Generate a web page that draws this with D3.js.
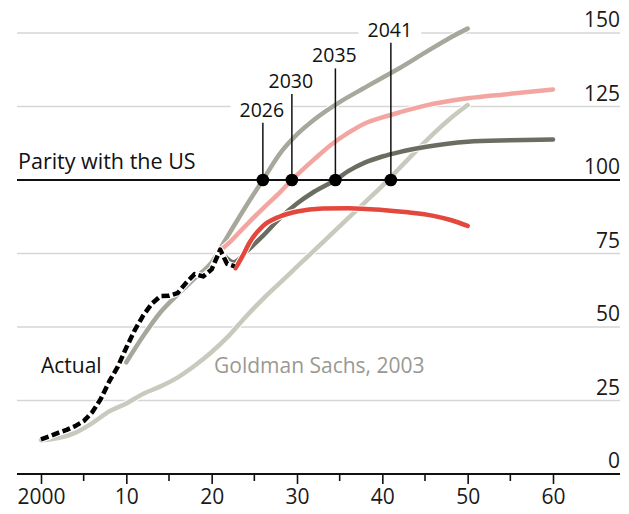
<!DOCTYPE html>
<html><head><meta charset="utf-8">
<script src="https://cdn.jsdelivr.net/npm/d3@7"></script>
<style>
html,body{margin:0;padding:0;background:#fff;}
svg text{font-family:"Open Sans","Noto Sans",sans-serif;}
</style></head>
<body>
<svg id="c" width="629" height="514"></svg>
<script>
// ---- data ----
const yTicks = [0, 25, 50, 75, 100, 125, 150];
const xMajor = [2000, 2010, 2020, 2030, 2040, 2050, 2060];
const xMinor = [2005, 2015, 2025, 2035, 2045, 2055];
const xTickLabels = ["2000", "10", "20", "30", "40", "50", "60"];

const actualYears  = [2000,2001,2002,2003,2004,2005,2006,2007,2008,2009,2010,2011,2012,2013,2014,2015,2016,2017,2018,2019,2020,2021,2021.8,2022.7];
const actualValues = [11.8,12.8,14,15,16.3,18,21,25.5,31.5,36.5,43,49,54,58,60.5,60.6,61.5,65,68,67.2,69.6,76.3,71.5,70.6];

const goldmanYears  = [2000,2002,2004,2006,2008,2010,2012,2014,2016,2018,2020,2022,2024,2026,2028,2030,2032,2034,2036,2038,2040,2042,2044,2046,2048,2050];
const goldmanValues = [11.5,12.2,14,17.3,21.3,24,27.3,29.8,32.8,36.8,41.5,47,53.5,59.5,65,70.5,76,81.5,87,92.5,98,104,110,115.8,121,125.5];

const upperYears  = [2010,2012,2014,2016,2018,2020,2022,2024,2026,2028,2030,2032,2035,2038,2040,2042,2045,2048,2050];
const upperValues = [38,47,55,61,66.5,72,81.5,91,100,109,115.5,120.5,126.5,131.5,134.8,138,143.3,148.5,151.5];

const pinkYears  = [2021.2,2022,2024,2026,2028,2029.4,2030,2032,2034,2036,2038,2040,2042,2045,2050,2055,2060];
const pinkValues = [76.5,78.5,84.5,90.3,95.8,100,101.7,107,112,116,119.3,121.3,123,125.3,127.8,129.3,130.8];

const darkYears  = [2021,2022.6,2024,2026,2028,2030,2032,2034.5,2036,2038,2040,2042,2045,2050,2055,2060];
const darkValues = [76,72,75.5,81,87,92,96,100,103,106,108,109.5,111.2,113,113.5,113.8];

const redYears  = [2022.8,2023.5,2024.5,2026,2028,2030,2033,2036,2040,2043,2046,2048,2050];
const redValues = [70,73.5,79,84.3,87.6,89.3,90.3,90.4,89.8,89,87.8,86.4,84.4];

const parityCrossYears = [2026, 2029.4, 2034.5, 2041];
const parityLabels = ["2026", "2030", "2035", "2041"];
const parityLabelValues = [121.5, 131.3, 140, 148.7]; // label baselines in value units

// ---- layout ----
const svg = d3.select("#c");
const x = d3.scaleLinear().domain([2000, 2060]).range([41, 553]);
const y = d3.scaleLinear().domain([0, 150]).range([474, 33]);
const L = 17, R = 620;

// gridlines
svg.append("g").selectAll("line")
  .data(yTicks.filter(d => d !== 0 && d !== 100))
  .join("line")
  .attr("x1", L).attr("x2", R)
  .attr("y1", d => y(d)).attr("y2", d => y(d))
  .attr("stroke", "#d6d6d6").attr("stroke-width", 1.5);

// y labels
svg.append("g").selectAll("text")
  .data(yTicks).join("text")
  .attr("x", R).attr("y", d => y(d) - 6)
  .attr("text-anchor", "end")
  .attr("font-size", 21).attr("fill", "#1a1a1a")
  .text(d => d);

// x axis
const xAxis = d3.axisBottom(x).tickValues(xMajor)
  .tickFormat((d, i) => xTickLabels[i]).tickSize(10).tickPadding(5);
const gx = svg.append("g").attr("transform", `translate(0,${y(0)})`).call(xAxis);
gx.select(".domain").remove();
gx.selectAll(".tick line").attr("stroke", "#111").attr("stroke-width", 1.6);
gx.selectAll(".tick text").attr("font-size", 21).attr("fill", "#1a1a1a")
  .attr("font-family", '"Open Sans","Noto Sans",sans-serif');
svg.append("g").selectAll("line").data(xMinor).join("line")
  .attr("x1", d => x(d)).attr("x2", d => x(d))
  .attr("y1", y(0)).attr("y2", y(0) + 7)
  .attr("stroke", "#111").attr("stroke-width", 1.6);
svg.append("line").attr("x1", L).attr("x2", R)
  .attr("y1", y(0)).attr("y2", y(0))
  .attr("stroke", "#111").attr("stroke-width", 2);

// series
function pts(ys, vs) { return ys.map((yr, i) => [yr, vs[i]]); }
const smooth = d3.line().x(d => x(d[0])).y(d => y(d[1])).curve(d3.curveMonotoneX);
const straight = d3.line().x(d => x(d[0])).y(d => y(d[1])).curve(d3.curveLinear);

const series = [
  {d: pts(goldmanYears, goldmanValues), c: "#c9cabe"},
  {d: pts(upperYears, upperValues), c: "#a7a89b"},
  {d: pts(pinkYears, pinkValues), c: "#f3a6a1"},
  {d: pts(darkYears, darkValues), c: "#6c6d61"},
  {d: pts(redYears, redValues), c: "#e4473b"},
];
const gs = svg.append("g");
series.forEach(s => {
  gs.append("path").attr("d", smooth(s.d)).attr("fill", "none")
    .attr("stroke", "#fff").attr("stroke-width", 6.5).attr("stroke-linecap", "round");
  gs.append("path").attr("d", smooth(s.d)).attr("fill", "none")
    .attr("stroke", s.c).attr("stroke-width", 4.5).attr("stroke-linecap", "round");
});
const act = pts(actualYears, actualValues);
gs.append("path").attr("d", straight(act)).attr("fill", "none")
  .attr("stroke", "#fff").attr("stroke-width", 6.5).attr("stroke-linejoin", "round");
gs.append("path").attr("d", straight(act)).attr("fill", "none")
  .attr("stroke", "#000").attr("stroke-width", 4.5)
  .attr("stroke-dasharray", "8,3.5").attr("stroke-linejoin", "round");

// parity line
svg.append("line").attr("x1", L).attr("x2", R)
  .attr("y1", y(100)).attr("y2", y(100))
  .attr("stroke", "#111").attr("stroke-width", 2);
svg.append("text").attr("x", 18).attr("y", y(100) - 11)
  .attr("font-size", 21.5).attr("fill", "#111").text("Parity with the US");

// parity markers
const gm = svg.append("g");
parityCrossYears.forEach((yr, i) => {
  const t = gm.append("text").attr("x", x(yr) - 1).attr("y", y(parityLabelValues[i]))
    .attr("text-anchor", "middle").attr("font-size", 19.5).attr("fill", "#111")
    .text(parityLabels[i]);
  const bb = t.node().getBBox();
  gm.insert("rect", "text").attr("x", bb.x - 9).attr("y", bb.y).attr("width", bb.width + 18)
    .attr("height", bb.height).attr("fill", "#fff");
  gm.append("line").attr("x1", x(yr)).attr("x2", x(yr))
    .attr("y1", y(parityLabelValues[i]) + 6).attr("y2", y(100))
    .attr("stroke", "#111").attr("stroke-width", 1.5);
});
gm.selectAll("circle").data(parityCrossYears).join("circle")
  .attr("cx", d => x(d)).attr("cy", y(100)).attr("r", 6.3).attr("fill", "#000");

// annotations
svg.append("text").attr("x", 41).attr("y", 373).attr("font-size", 21)
  .attr("fill", "#111").text("Actual");
svg.append("text").attr("x", 214).attr("y", 373).attr("font-size", 21)
  .attr("fill", "#999992").text("Goldman Sachs, 2003");
</script>
</body></html>
